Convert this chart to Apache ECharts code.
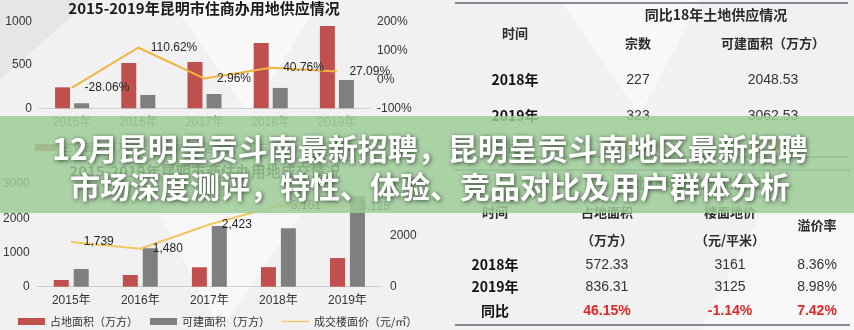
<!DOCTYPE html>
<html>
<head>
<meta charset="utf-8">
<script src="https://cdn.jsdelivr.net/npm/echarts@6/dist/echarts.min.js"></script>
<style>
  html, body { margin: 0; padding: 0; background: #f1f1f1; }
  #main { width: 854px; height: 330px; }
</style>
</head>
<body>
<div id="main"></div>
<script>
// ---- data ----
const years = ['2015年', '2016年', '2017年', '2018年', '2019年'];

// supply chart (top left)
const supplyTitle = '2015-2019年昆明市住商办用地供应情况';
const supplyLand = [242, 523, 535, 754, 950];
const supplyOther = [58, 154, 165, 235, 327];
const supplyGrowth = [-28.06, 110.62, 2.96, 40.76, 27.09];
const supplyNames = ['占地面积（万方）', '可建面积（万方）', '增长率'];

// transaction chart (bottom left)
const dealTitle = '2015-2019年昆明市商住办用地成交情况';
const dealLand = [196, 342, 567, 572.33, 836.31];
const dealBuild = [517, 1123, 1775, 1707, 2650];
const dealPrice = [1739, 1480, 2423, 3161, 3125];
const dealNames = ['占地面积（万方）', '可建面积（万方）', '成交楼面价（元/㎡）'];

// supply table (top right)
const supplyTableHead = '同比18年土地供应情况';
const supplyTableCols = ['时间', '宗数', '可建面积（万方）'];
const supplyTableYears = ['2018年', '2019年'];
const supplyTableCount = ['227', '323'];
const supplyTableArea = ['2048.53', '3062.53'];
const supplyTableYoy = ['同比', '42.29%', '49.50%'];

// transaction table (bottom right)
const dealTableHead = '同比18年土地成交情况';
const dealTableCols = ['时间', '占地面积', '楼面地价', '溢价率'];
const dealTableUnits = ['', '（万方）', '（元/平米）', ''];
const dealTableYears = ['2018年', '2019年'];
const dealTableLand = ['572.33', '836.31'];
const dealTablePrice = ['3161', '3125'];
const dealTablePremium = ['8.36%', '8.98%'];
const dealTableYoy = ['同比', '46.15%', '-1.14%', '7.42%'];

// headline
const headline = ['12月昆明呈贡斗南最新招聘，昆明呈贡斗南地区最新招聘',
                  '市场深度测评，特性、体验、竞品对比及用户群体分析'];

// ---- styles ----
const FONT = "'Liberation Sans', 'Noto Sans CJK SC', sans-serif";
const CJK = "'Noto Sans CJK SC', 'Liberation Sans', sans-serif";
const RED = '#c0504d';
const GRAY = '#7f7f7f';
const TXT = '#262626';
const LINE_TOP = '#f2b43e';
const LINE_BOTTOM = '#f3c760';
const LINE_ICON = 'path://M0,0H40V2H0Z';

function fmtThousands(v) {
  return String(v).replace(/\B(?=(\d{3})+(?!\d))/g, ',');
}

function text(x, y, s, opt) {
  opt = opt || {};
  return {
    type: 'text', x: x, y: y, z: opt.z || 5, silent: true,
    style: {
      text: s,
      fill: opt.fill || '#2b2b2b',
      font: (opt.weight || 'normal') + ' ' + (opt.size || 14) + 'px ' + (opt.family || CJK),
      align: opt.align || 'center', textAlign: opt.align || 'center',
      verticalAlign: 'middle', textVerticalAlign: 'middle'
    }
  };
}
function hline(x1, x2, y, color, w) {
  return { type: 'line', z: 5, silent: true,
    shape: { x1: x1, y1: y, x2: x2, y2: y },
    style: { stroke: color || '#5b6878', lineWidth: w || 1.5 } };
}

const graphics = [];

// soft background facets
graphics.push(
  { type: 'polygon', z: 0, silent: true, shape: { points: [[170, 0], [320, 0], [250, 115]] }, style: { fill: 'rgba(255,255,255,0.55)' } },
  { type: 'polygon', z: 0, silent: true, shape: { points: [[0, 0], [90, 0], [0, 80]] }, style: { fill: 'rgba(220,220,220,0.5)' } },
  { type: 'polygon', z: 0, silent: true, shape: { points: [[560, 0], [700, 0], [640, 115]] }, style: { fill: 'rgba(255,255,255,0.5)' } },
  { type: 'polygon', z: 0, silent: true, shape: { points: [[760, 215], [854, 215], [854, 330], [700, 330]] }, style: { fill: 'rgba(255,255,255,0.45)' } },
  { type: 'polygon', z: 0, silent: true, shape: { points: [[160, 215], [300, 215], [220, 330]] }, style: { fill: 'rgba(255,255,255,0.5)' } }
);

// chart titles
graphics.push(text(204, 8, supplyTitle, { weight: 'bold', size: 15, fill: '#1a1a1a' }));
graphics.push(text(205, 171, dealTitle, { weight: 'bold', size: 15, fill: '#1a1a1a' }));

// supply table
const tc1 = [515, 638, 773];
graphics.push(hline(455, 848, 3));
graphics.push(text(716, 15, supplyTableHead, { weight: 'bold', size: 14 }));
graphics.push(text(tc1[0], 33, supplyTableCols[0], { weight: 'bold', size: 13 }));
graphics.push(text(tc1[1], 43, supplyTableCols[1], { weight: 'bold', size: 13 }));
graphics.push(text(tc1[2], 43, supplyTableCols[2], { weight: 'bold', size: 13 }));
[80, 116].forEach(function (y, i) {
  graphics.push(text(tc1[0], y, supplyTableYears[i], { weight: 'bold', size: 14, fill: '#111' }));
  graphics.push(text(tc1[1], y, supplyTableCount[i], { size: 14, family: FONT, fill: '#333' }));
  graphics.push(text(tc1[2], y, supplyTableArea[i], { size: 14, family: FONT, fill: '#333' }));
});
graphics.push(text(tc1[0] - 8, 147, supplyTableYoy[0], { weight: 'bold', size: 14, fill: '#111' }));
graphics.push(text(tc1[1], 147, supplyTableYoy[1], { weight: 'bold', size: 14, family: FONT, fill: '#e0282b' }));
graphics.push(text(tc1[2], 147, supplyTableYoy[2], { weight: 'bold', size: 14, family: FONT, fill: '#e0282b' }));
graphics.push(hline(455, 848, 157));

// transaction table
const tc2 = [495, 607, 730, 817];
graphics.push(hline(453, 850, 170));
graphics.push(text(690, 183, dealTableHead, { weight: 'bold', size: 14 }));
graphics.push(text(tc2[0], 212, dealTableCols[0], { weight: 'bold', size: 13 }));
graphics.push(text(tc2[1], 212, dealTableCols[1], { weight: 'bold', size: 13 }));
graphics.push(text(tc2[2], 212, dealTableCols[2], { weight: 'bold', size: 13 }));
graphics.push(text(tc2[3], 225, dealTableCols[3], { weight: 'bold', size: 13 }));
graphics.push(text(tc2[1], 240, dealTableUnits[1], { weight: 'bold', size: 13 }));
graphics.push(text(tc2[2], 240, dealTableUnits[2], { weight: 'bold', size: 13 }));
[265, 287].forEach(function (y, i) {
  graphics.push(text(tc2[0], y, dealTableYears[i], { weight: 'bold', size: 14, fill: '#111' }));
  graphics.push(text(tc2[1], y, dealTableLand[i], { size: 14, family: FONT, fill: '#333' }));
  graphics.push(text(tc2[2], y, dealTablePrice[i], { size: 14, family: FONT, fill: '#333' }));
  graphics.push(text(tc2[3], y, dealTablePremium[i], { size: 14, family: FONT, fill: '#333' }));
});
graphics.push(text(tc2[0], 311, dealTableYoy[0], { weight: 'bold', size: 14, fill: '#111' }));
for (let i = 1; i < 4; i++) {
  graphics.push(text(tc2[i], 311, dealTableYoy[i], { weight: 'bold', size: 14, family: FONT, fill: '#e0282b' }));
}
graphics.push(hline(455, 850, 325));

// headline band
graphics.push({ type: 'rect', z: 50, silent: true,
  shape: { x: 0, y: 116, width: 854, height: 97 },
  style: { fill: 'rgba(158,205,152,0.85)' } });
headline.forEach(function (s, i) {
  graphics.push({
    type: 'text', x: 430, y: i === 0 ? 149 : 187, z: 51, silent: true,
    style: {
      text: s, fill: '#ffffff',
      font: 'bold 30px ' + CJK,
      align: 'center', textAlign: 'center',
      verticalAlign: 'middle', textVerticalAlign: 'middle',
      textShadowColor: 'rgba(0,0,0,0.65)', textShadowBlur: 4,
      textShadowOffsetX: 1, textShadowOffsetY: 1
    }
  });
});

const axisLabel = { color: '#333', fontSize: 12, fontFamily: FONT,
                    formatter: function (v) { return String(v); } };

const option = {
  backgroundColor: '#f1f1f1',
  animation: false,
  textStyle: { fontFamily: FONT },
  graphic: graphics,
  legend: [
    {
      left: 30, top: 137, itemWidth: 22, itemHeight: 7, itemGap: 14,
      data: [
        { name: supplyNames[0], icon: 'rect' },
        { name: supplyNames[1], icon: 'rect' },
        { name: supplyNames[2], icon: LINE_ICON, itemStyle: { color: LINE_TOP } }
      ],
      textStyle: { color: '#444', fontSize: 11, fontFamily: CJK }
    },
    {
      left: 13, top: 311, itemWidth: 27, itemHeight: 7, itemGap: 12,
      data: [
        { name: dealNames[0], icon: 'rect' },
        { name: dealNames[1], icon: 'rect' },
        { name: dealNames[2], icon: LINE_ICON, itemStyle: { color: LINE_BOTTOM } }
      ],
      textStyle: { color: '#333', fontSize: 11, fontFamily: CJK }
    }
  ],
  grid: [
    { left: 39, top: 21.7, width: 331, height: 86.6 },
    { left: 32, top: 184, width: 350, height: 102.7 }
  ],
  xAxis: [
    { type: 'category', gridIndex: 0, data: years,
      axisLine: { lineStyle: { color: '#d0d0d0' } }, axisTick: { show: false },
      axisLabel: { color: '#595959', fontSize: 12, fontFamily: FONT, margin: 8 } },
    { type: 'category', gridIndex: 1, data: years,
      axisLine: { lineStyle: { color: '#d0d0d0' } }, axisTick: { show: false },
      axisLabel: { color: '#333', fontSize: 12, fontFamily: FONT, margin: 8 } }
  ],
  yAxis: [
    { type: 'value', gridIndex: 0, min: 0, max: 1000, interval: 500,
      splitLine: { show: false }, axisLabel: Object.assign({}, axisLabel, { margin: 7 }) },
    { type: 'value', gridIndex: 0, min: -100, max: 200, interval: 100, position: 'right',
      splitLine: { show: false },
      axisLabel: Object.assign({}, axisLabel, { margin: 7, formatter: '{value}%' }) },
    { type: 'value', gridIndex: 1, min: 0, max: 3000, interval: 1000,
      splitLine: { show: false }, axisLabel: Object.assign({}, axisLabel, { margin: 7 }) },
    { type: 'value', gridIndex: 1, min: 0, max: 4000, interval: 2000, position: 'right',
      splitLine: { show: false }, axisLabel: Object.assign({}, axisLabel, { margin: 8 }) }
  ],
  series: [
    { name: supplyNames[0], type: 'bar', xAxisIndex: 0, yAxisIndex: 0, data: supplyLand,
      barWidth: 15, barGap: '27%', itemStyle: { color: RED } },
    { name: supplyNames[1], type: 'bar', xAxisIndex: 0, yAxisIndex: 0, data: supplyOther,
      barWidth: 15, barGap: '27%', itemStyle: { color: GRAY } },
    { name: supplyNames[2], type: 'line', xAxisIndex: 0, yAxisIndex: 1, data: supplyGrowth,
      symbol: 'circle', symbolSize: 1, lineStyle: { color: LINE_TOP, width: 2 },
      itemStyle: { color: LINE_TOP },
      label: { show: true, position: 'right', distance: 12, color: TXT, fontSize: 12,
               fontFamily: FONT, formatter: function (p) { return p.value.toFixed(2) + '%'; } } },
    { name: dealNames[0], type: 'bar', xAxisIndex: 1, yAxisIndex: 2, data: dealLand,
      barWidth: 15, barGap: '33%', itemStyle: { color: RED } },
    { name: dealNames[1], type: 'bar', xAxisIndex: 1, yAxisIndex: 2, data: dealBuild,
      barWidth: 15, barGap: '33%', itemStyle: { color: GRAY } },
    { name: dealNames[2], type: 'line', xAxisIndex: 1, yAxisIndex: 3, data: dealPrice,
      symbol: 'circle', symbolSize: 1, lineStyle: { color: LINE_BOTTOM, width: 2 },
      itemStyle: { color: LINE_BOTTOM },
      label: { show: true, position: 'right', distance: 12, color: TXT, fontSize: 12,
               fontFamily: FONT, formatter: function (p) { return fmtThousands(p.value); } } }
  ]
};

const chart = echarts.init(document.getElementById('main'), null, { renderer: 'canvas' });
chart.setOption(option);
</script>
</body>
</html>
